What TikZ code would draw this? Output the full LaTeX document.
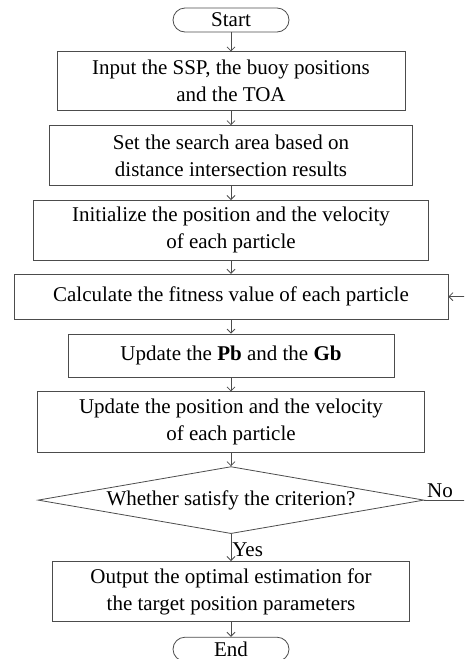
\documentclass[tikz,border=0pt]{standalone}
\usepackage{fontspec}
\setmainfont{Liberation Serif}
\usepackage{tikz}
\usetikzlibrary{arrows.meta,positioning,shapes.geometric}

\begin{document}
\begin{tikzpicture}[
  font=\fontsize{21}{27}\selectfont,
  every node/.style={text=black},
  proc/.style={rectangle, draw=black!70, line width=0.8pt, align=center,
               inner sep=2pt},
  term/.style={rectangle, draw=black!70, line width=0.8pt, rounded corners=12pt,
               minimum width=116pt, align=center, inner sep=0pt},
  decide/.style={diamond, draw=black!70, line width=0.8pt, aspect=5.76,
                 inner sep=0pt, minimum width=386pt, minimum height=67pt},
  flow/.style={-{Straight Barb[length=4pt, width=8pt]}, draw=black!70,
               line width=0.8pt},
]
  \useasboundingbox (0,0) rectangle (464pt,-659pt);
  \clip (0,0) rectangle (464pt,-659pt);

  % Start
  \node[term, minimum height=24pt] (start) at (231pt,-20pt) {Start};

  % Steps
  \node[proc, below=19pt of start, minimum width=348pt, minimum height=59pt] (input)
    {Input the SSP, the buoy positions\\and the TOA};
  \node[proc, below=14pt of input, minimum width=363pt, minimum height=60pt] (area)
    {Set the search area based on\\distance intersection results};
  \node[proc, below=14pt of area, minimum width=395pt, minimum height=60pt] (init)
    {Initialize the position and the velocity\\of each particle};
  \node[proc, below=13pt of init, minimum width=434pt, minimum height=45pt] (calc)
    {Calculate the fitness value of each particle};
  \node[proc, below=14pt of calc, minimum width=326pt, minimum height=43pt] (best)
    {Update the \textbf{Pb} and the \textbf{Gb}};
  \node[proc, below=14pt of best, minimum width=387pt, minimum height=61pt] (move)
    {Update the position and the velocity\\of each particle};

  % Check
  \node[decide, below=13pt of move] (check) {Whether satisfy the criterion?};

  % Output and end
  \node[proc, below=27pt of check, minimum width=357pt, minimum height=60pt] (output)
    {Output the optimal estimation for\\the target position parameters};
  \node[term, below=15pt of output, minimum height=24pt] (stop) {End};

  % Connections
  \draw[flow] (start) -- (input);
  \draw[flow] (input) -- (area);
  \draw[flow] (area) -- (init);
  \draw[flow] (init) -- (calc);
  \draw[flow] (calc) -- (best);
  \draw[flow] (best) -- (move);
  \draw[flow] (move) -- (check);
  \draw[flow] (check) -- node[right, pos=0.6, inner sep=1pt] {Yes} (output);
  \draw[flow] (output) -- (stop);

  % Loop back
  \coordinate[right=52pt of check.east] (back);
  \draw[flow] (check.east) -- node[above, pos=0.3, inner sep=2pt] {No} (back) |- (calc.east);

\end{tikzpicture}
\end{document}
